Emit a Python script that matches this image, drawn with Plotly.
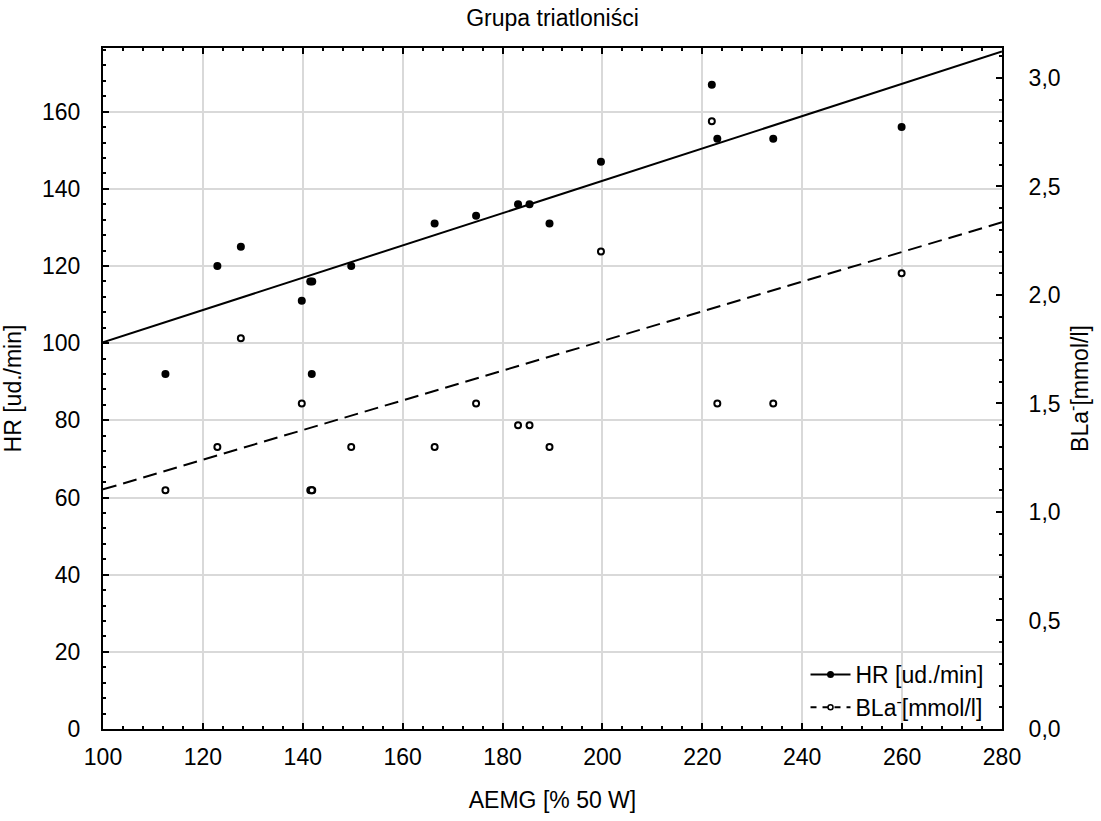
import plotly.graph_objects as go

# ---- data ----
aemg = [112.5, 122.9, 127.6, 139.8, 141.5, 141.9, 141.8, 149.7, 166.4, 174.7,
        183.1, 185.4, 189.4, 199.7, 221.9, 223.0, 234.2, 259.9]
hr = [92, 120, 125, 111, 116, 116, 92, 120, 131, 133,
      136, 136, 131, 147, 167, 153, 153, 156]
bla = [1.1, 1.3, 1.8, 1.5, 1.1, 1.1, 1.1, 1.3, 1.3, 1.5,
       1.4, 1.4, 1.3, 2.2, 2.8, 1.5, 1.5, 2.1]

fit_x = [100, 280]
hr_fit = [100.2, 175.6]
bla_fit = [1.104, 2.335]

x_ticks = [100, 120, 140, 160, 180, 200, 220, 240, 260, 280]
hr_ticks = [0, 20, 40, 60, 80, 100, 120, 140, 160]
bla_ticks = [0.0, 0.5, 1.0, 1.5, 2.0, 2.5, 3.0]

FONT = "Liberation Sans, Arial, sans-serif"
FS = 23

fig = go.Figure()

fig.add_trace(go.Scatter(x=fit_x, y=hr_fit, mode="lines",
                         line=dict(color="black", width=2), showlegend=False, yaxis="y"))
fig.add_trace(go.Scatter(x=fit_x, y=bla_fit, mode="lines",
                         line=dict(color="black", width=2, dash="14px,7px"),
                         showlegend=False, yaxis="y2"))
fig.add_trace(go.Scatter(x=aemg, y=hr, mode="markers",
                         marker=dict(color="black", size=8), showlegend=False, yaxis="y"))
fig.add_trace(go.Scatter(x=aemg, y=bla, mode="markers",
                         marker=dict(color="white", size=6, line=dict(color="black", width=2)),
                         showlegend=False, yaxis="y2"))

# legend entries
fig.add_trace(go.Scatter(x=[None], y=[None], mode="lines+markers", name="HR [ud./min]",
                         line=dict(color="black", width=2),
                         marker=dict(color="black", size=7)))
fig.add_trace(go.Scatter(x=[None], y=[None], mode="lines+markers",
                         name="BLa<sup>-</sup>[mmol/l]",
                         line=dict(color="black", width=2, dash="6px,6px"),
                         marker=dict(color="white", size=5, line=dict(color="black", width=1.5))))

axis_common = dict(
    showline=True, linecolor="black", linewidth=2,
    ticks="inside", ticklen=6, tickwidth=2, tickcolor="black",
    tickfont=dict(family=FONT, size=FS, color="black"),
    zeroline=False,
)

fig.update_layout(
    width=1101, height=821,
    margin=dict(l=102, r=94, t=48, b=89),
    paper_bgcolor="white", plot_bgcolor="white",
    separators=",.",
    font=dict(family=FONT, size=FS, color="black"),
    title=dict(text="Grupa triatloniści", x=0.5, xref="paper", xanchor="center",
               y=1 - 18 / 821, yanchor="middle", yref="container",
               font=dict(family=FONT, size=FS, color="black")),
    xaxis=dict(
        **axis_common,
        range=[100, 280], tickvals=x_ticks, mirror="ticks",
        showgrid=True, gridcolor="#d9d9d9", gridwidth=2,
        minor=dict(dtick=4, ticks="inside", ticklen=3, tickwidth=2, tickcolor="black", showgrid=False),
        ticklabelstandoff=6,
        title=dict(text="AEMG [% 50 W]", standoff=23, font=dict(family=FONT, size=FS)),
    ),
    yaxis=dict(
        **axis_common,
        range=[0, 176.5], tickvals=hr_ticks,
        showgrid=True, gridcolor="#d9d9d9", gridwidth=2,
        minor=dict(dtick=4, ticks="inside", ticklen=3, tickwidth=2, tickcolor="black", showgrid=False),
        ticklabelstandoff=16,
        title=dict(text="HR [ud./min]", standoff=14, font=dict(family=FONT, size=FS)),
    ),
    yaxis2=dict(
        **axis_common,
        range=[0, 3.138], tickvals=bla_ticks, tickformat=".1f",
        overlaying="y", side="right", showgrid=False,
        minor=dict(dtick=0.1, ticks="inside", ticklen=3, tickwidth=2, tickcolor="black", showgrid=False),
        ticklabelstandoff=20,
        title=dict(text="BLa<sup>-</sup>[mmol/l]", standoff=12, font=dict(family=FONT, size=FS)),
    ),
    legend=dict(x=0.985, y=0.0, xanchor="right", yanchor="bottom",
                bgcolor="rgba(0,0,0,0)", borderwidth=0,
                font=dict(family=FONT, size=FS, color="black"),
                itemwidth=40, tracegroupgap=0),
)

fig.write_html("out.html")
